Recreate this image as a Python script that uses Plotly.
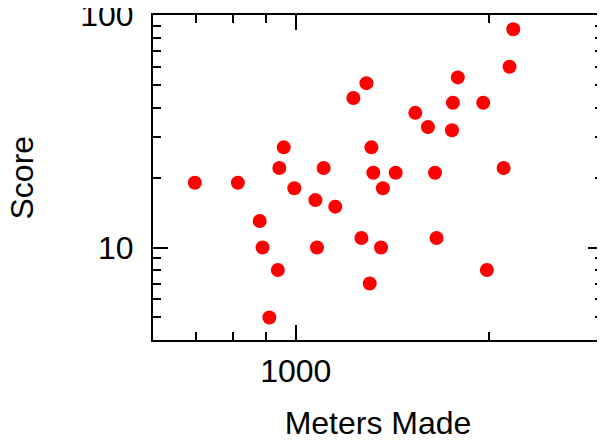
import plotly.graph_objects as go

meters = [697, 813, 879, 888, 938, 910, 958, 943, 995, 1073, 1079, 1105, 1152,
          1229, 1288, 1311, 1320, 1366, 1430, 1265, 1357, 1303, 1534, 1605,
          1646, 1655, 1749, 1755, 1786, 1956, 1982, 2104, 2149, 2178]
score = [19, 19, 13, 10, 8, 5, 27, 22, 18, 16, 10, 22, 15,
         44, 51, 27, 21, 18, 21, 11, 10, 7, 38, 33,
         21, 11, 32, 42, 54, 42, 8, 22, 60, 87]

x_major = [1000]
x_minor = [600, 700, 800, 900, 2000, 3000]
y_major = [10, 100]
y_minor = [4, 5, 6, 7, 8, 9, 20, 30, 40, 50, 60, 70, 80, 90]

FONT = "Liberation Sans"
FS = 32

fig = go.Figure(go.Scatter(
    x=meters, y=score, mode="markers",
    marker=dict(color="#ff0000", size=14, line=dict(width=0)),
    showlegend=False,
))

common = dict(
    showline=True, linecolor="black", linewidth=2, mirror="ticks",
    ticks="inside", ticklen=15, tickwidth=2, tickcolor="black",
    showgrid=False, zeroline=False, automargin=False,
    ticklabeloverflow="allow",
    tickfont=dict(family=FONT, size=FS, color="black"),
)

fig.update_xaxes(
    type="log", range=[2.7782, 3.4775],
    tickmode="array", tickvals=x_major, ticktext=[str(v) for v in x_major],
    minor=dict(tickmode="array", tickvals=x_minor, ticks="inside", ticklen=8,
               tickwidth=2, tickcolor="black", showgrid=False),
    title=dict(text="Meters Made", font=dict(family=FONT, size=FS, color="black"), standoff=29),
    ticklabelstandoff=2,
    **common,
)
fig.update_yaxes(
    type="log", range=[0.602, 2.001],
    tickmode="array", tickvals=y_major, ticktext=[str(v) for v in y_major],
    minor=dict(tickmode="array", tickvals=y_minor, ticks="inside", ticklen=8,
               tickwidth=2, tickcolor="black", showgrid=False),
    ticklabelstandoff=11,
    **common,
)

# y-axis title as a rotated annotation so it can sit at the far left like the reference
fig.add_annotation(
    text="Score", textangle=-90, showarrow=False,
    xref="paper", yref="paper", x=0, y=0.5, xanchor="center", yanchor="middle",
    xshift=-132, font=dict(family=FONT, size=FS, color="black"),
)

# page body has an 8px default margin, so the figure is 8px smaller and margins shifted
fig.update_layout(
    width=597, height=433,
    margin=dict(l=145, r=2, t=7, b=101),
    plot_bgcolor="white", paper_bgcolor="white",
    font=dict(family=FONT, size=FS, color="black"),
)

fig.write_html("out.html")
